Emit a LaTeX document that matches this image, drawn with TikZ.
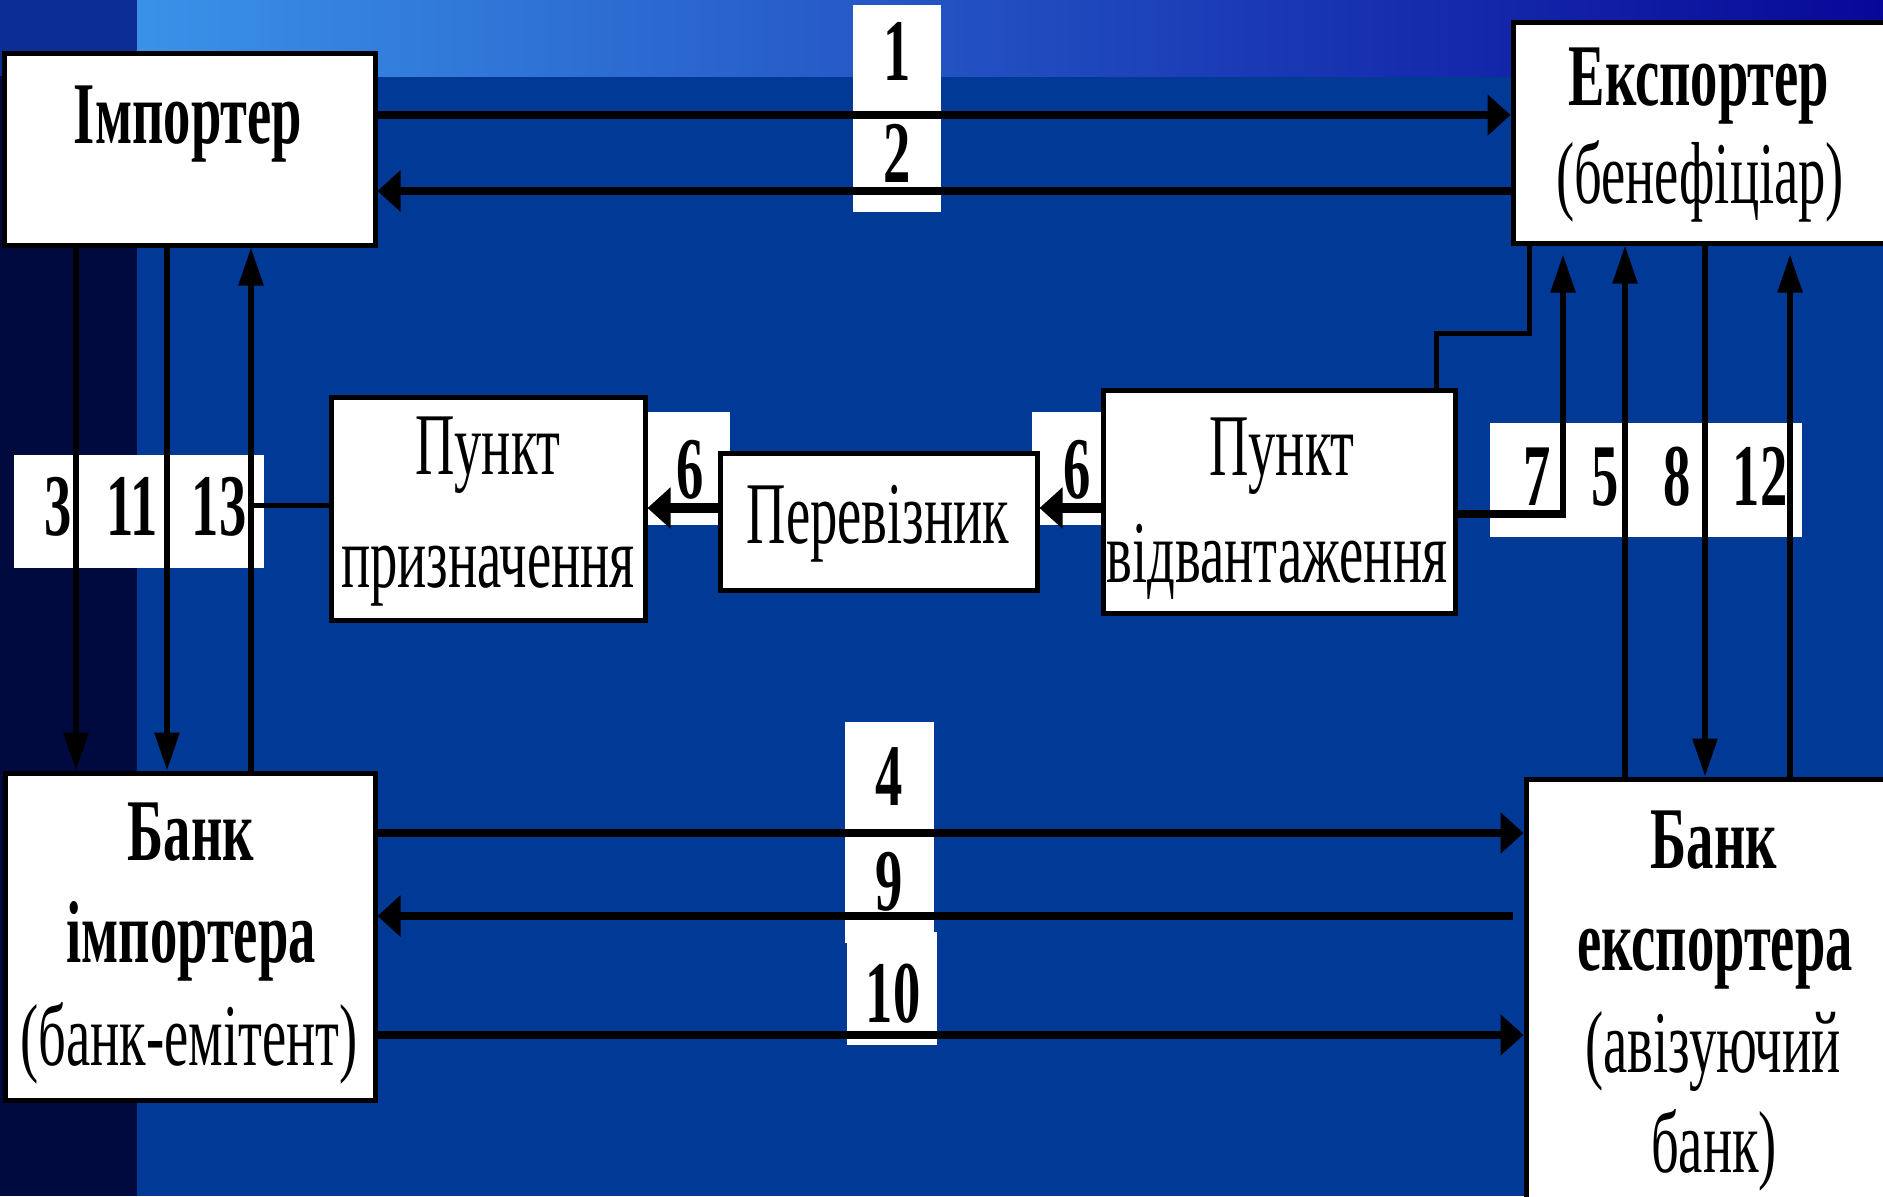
\documentclass[tikz,border=0pt]{standalone}
\usepackage{fontspec}
\setmainfont{Liberation Serif}[FakeStretch=0.62]
\usetikzlibrary{arrows.meta,fit}
\definecolor{navyL}{RGB}{0,10,62}
\definecolor{topL}{RGB}{12,46,148}
\definecolor{mainB}{RGB}{0,57,150}
\definecolor{gradL}{RGB}{58,146,232}
\definecolor{gradR}{RGB}{8,8,152}
\tikzset{
 box/.style={draw=black, fill=white, line width=2.5pt, inner sep=0pt, rectangle},
 lab/.style={fill=white, inner sep=0pt, rectangle},
 bt/.style={anchor=base, inner sep=0pt, font=\fontsize{44}{50}\selectfont\bfseries},
 nt/.style={anchor=base, inner sep=0pt, font=\fontsize{44}{50}\selectfont},
 hl/.style={line width=4pt},
 hlb/.style={line width=5pt},
 vl/.style={line width=2.8pt},
 tl/.style={line width=2.5pt},
 htip/.style={-{Triangle[length=11.5pt,width=20pt]}},
 vtip/.style={-{Triangle[length=19pt,width=12pt]}},
}
\begin{document}
\begin{tikzpicture}[x=0.5pt,y=-0.5pt]
\useasboundingbox (0,0) rectangle (1883,1196);
\clip (0,0) rectangle (1883,1196);
% background
\fill[navyL] (0,0) rectangle (1883,1196);
\fill[topL] (0,0) rectangle (137,76);
\fill[mainB] (137,76) rectangle (1883,1196);
\shade[left color=gradL, right color=gradR] (137,0) rectangle (1883,76);
% white label fields
\node[lab, fit={(853,5) (941,212)}] (l12) {};
\node[lab, fit={(14,455) (264,568)}] (l3) {};
\node[lab, fit={(647,412) (730,525)}] (l6a) {};
\node[lab, fit={(1032,412) (1102,525)}] (l6b) {};
\node[lab, fit={(1490,423) (1802,537)}] (l7) {};
\node[lab, fit={(845,722) (934,943)}] (l49) {};
\node[lab, fit={(847,932) (937,1045)}] (l10) {};
% boxes
\node[box, fit={(4,53) (375,245)}] (imp) {};
\node[box, fit={(1513,22) (1900,243)}] (exp) {};
\node[box, fit={(5,773) (375,1100)}] (bimp) {};
\node[box, fit={(1526,779) (1900,1215)}] (bexp) {};
\node[box, fit={(331,397) (645,620)}] (dest) {};
\node[box, fit={(720,453) (1037,590)}] (carr) {};
\node[box, fit={(1103,390) (1455,613)}] (ship) {};
% horizontal arrows
\draw[hl,htip] (imp.east |- 0,115) -- (exp.west |- 0,115);
\draw[hl,htip] (exp.west |- 0,191) -- (imp.east |- 0,191);
\draw[hl,htip] (bimp.east |- 0,833) -- (bexp.west |- 0,833);
\draw[hl,htip,shorten <=5.5pt] (bexp.west |- 0,916) -- (bimp.east |- 0,916);
\draw[hl,htip] (bimp.east |- 0,1035) -- (bexp.west |- 0,1035);
\draw[hlb,htip] (carr.west |- 0,508) -- (dest.east |- 0,508);
\draw[hlb,htip] (ship.west |- 0,508) -- (carr.east |- 0,508);
% left verticals
\draw[vl,vtip] (imp.south -| 76,0) -- (bimp.north -| 76,0);
\draw[vl,vtip] (imp.south -| 167,0) -- (bimp.north -| 167,0);
\draw[vl,vtip] (bimp.north -| 251,0) -- (imp.south -| 251,0);
\coordinate (j13) at (251,505);
\draw[tl] (j13) -- (dest.west |- j13);
% right verticals
\draw[tl] (ship.north -| 1436,0) |- (1529,333) -- (exp.south -| 1529,0);
\coordinate (c7) at (1563,514);
\draw[hl] (ship.east |- c7) -- ([xshift=1.4pt]c7);
\draw[vl,vtip,shorten >=4.5pt] ([yshift=-2pt]c7) -- (exp.south -| c7);
\draw[vl,vtip] (bexp.north -| 1625,0) -- (exp.south -| 1625,0);
\draw[vl,vtip] (exp.south -| 1705,0) -- (bexp.north -| 1705,0);
\draw[vl,vtip,shorten >=4.5pt] (bexp.north -| 1790,0) -- (exp.south -| 1790,0);
% box texts
\node[bt] (timp) at (188,143) {Імпортер};
\node[bt] (texp1) at (1699,105) {Експортер};
\node[nt] (texp2) at (1700,203) {(бенефіціар)};
\node[bt] (tbi1) at (191,860) {Банк};
\node[bt] (tbi2) at (191,962) {імпортера};
\node[nt] (tbi3) at (189,1065) {(банк-емітент)};
\node[bt] (tbe1) at (1714,868) {Банк};
\node[bt] (tbe2) at (1715,970) {експортера};
\node[nt] (tbe3) at (1713,1072) {(авізуючий};
\node[nt] (tbe4) at (1714,1172) {банк)};
\node[nt] (td1) at (488,474) {Пункт};
\node[nt] (td2) at (488,587) {призначення};
\node[nt] (tc) at (878,543) {Перевізник};
\node[nt] (ts1) at (1282,475) {Пункт};
\node[nt] (ts2) at (1277,582) {відвантаження};
% numbers
\node[bt] (n1) at (897,80) {1};
\node[bt] (n2) at (897,182) {2};
\node[bt] (n3) at (58,535) {3};
\node[bt] (n11) at (132,535) {11};
\node[bt] (n13) at (219,535) {13};
\node[bt] (n6a) at (690,498) {6};
\node[bt] (n6b) at (1077,498) {6};
\node[bt] (n7) at (1537,505) {7};
\node[bt] (n5) at (1605,505) {5};
\node[bt] (n8) at (1677,505) {8};
\node[bt] (n12) at (1760,505) {12};
\node[bt] (n4) at (889,805) {4};
\node[bt] (n9) at (889,910) {9};
\node[bt] (n10) at (893,1022) {10};
\end{tikzpicture}
\end{document}
